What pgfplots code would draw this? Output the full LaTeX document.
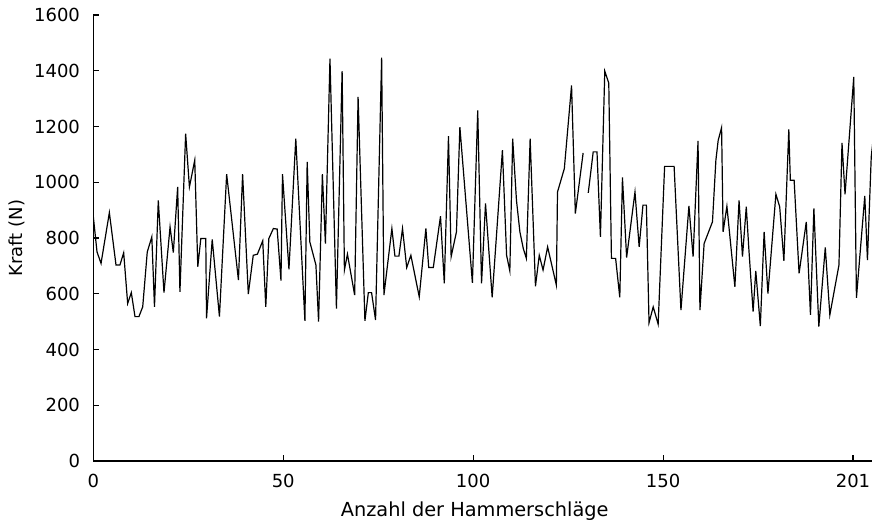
\documentclass[border=0pt]{standalone}
\usepackage{fontspec}
\setmainfont{DejaVu Sans}
\usepackage{pgfplots}
\pgfplotsset{compat=1.18}

\begin{document}
\begin{tikzpicture}[font=\fontsize{13.5}{16}\selectfont]
\begin{axis}[
    width=584pt, height=334.5pt, scale only axis,
    xmin=0, xmax=205, ymin=0, ymax=1600,
    axis lines=left,
    axis line style={-, line width=0.8pt},
    tick align=inside,
    major tick length=4.5pt,
    tick style={line width=0.8pt, black},
    xtick={0,50,100,150,200},
    xticklabels={0,50,100,150,201},
    ytick={0,200,...,1600},
    /pgf/number format/assume math mode=true,
    /pgf/number format/1000 sep={},
    xticklabel style={yshift=-6pt},
    yticklabel style={xshift=-6.5pt},
    xlabel={Anzahl der Hammerschläge},
    ylabel={Kraft (N)},
    every axis x label/.style={at={(axis description cs:0.5,0)}, xshift=-6pt, yshift=-37.5pt, anchor=center, font=\fontsize{14.5}{17}\selectfont},
    every axis y label/.style={at={(axis description cs:0,0.5)}, xshift=-57pt, rotate=90, anchor=center},
    unbounded coords=jump,
]
% force per hammer blow, vertices
\addplot[black, line width=0.9pt] coordinates {
    (0,876) (0.97,750) (2.03,709) (4.22,891) (5.97,703) (7.0,703)
    (7.99,747) (9.04,565) (10.0,604) (10.97,518) (12.0,518) (13.0,553)
    (14.2,750) (15.4,804) (16.1,553) (17.1,935) (18.6,604) (20.2,840)
    (21.06,748) (22.2,983) (22.8,607) (24.3,1174) (25.3,983) (26.7,1079)
    (27.5,697) (28.3,798) (29.6,798) (29.8,512) (31.3,795) (33.2,518)
    (35.1,1029) (38.2,649) (39.3,1029) (40.8,599) (42.1,738) (43.2,742)
    (44.6,790) (45.4,553) (46.2,798) (47.4,834) (48.4,832) (49.4,647)
    (49.8,1029) (51.5,688) (53.3,1156) (55.7,503) (56.3,1073) (57.0,786)
    (58.6,703) (59.3,500) (60.3,1029) (61.1,780) (62.3,1443) (64.0,547)
    (65.5,1399) (66.1,685) (66.9,742) (68.8,595) (69.7,1306) (71.5,503)
    (72.4,604) (73.25,604) (74.3,506) (75.9,1447) (76.5,595) (78.6,834)
    (79.4,735) (80.45,735) (81.4,834) (82.5,694) (83.6,738) (85.8,589)
    (87.55,834) (88.3,694) (89.5,694) (91.4,878) (92.4,637) (93.5,1165)
    (94.2,733) (95.6,822) (96.5,1198) (99.8,639) (101.2,1258) (102.2,637)
    (103.25,924) (105.0,587) (107.7,1115) (108.8,738) (109.65,682) (110.4,1156)
    (111.4,935) (112.3,822) (113.2,762) (114.0,727) (115.0,1156) (116.4,627)
    (117.4,738) (118.4,685) (119.6,768) (121.9,631) (122.2,965) (124.0,1049)
    (125.9,1347) (126.9,888) (128.95,1105)
    (129.6,nan)
    (130.3,962) (131.6,1109) (132.6,1109) (133.5,804) (134.65,1399) (135.7,1356)
    (136.4,727) (137.5,727) (138.6,587) (139.3,1017) (140.4,730) (142.6,965)
    (143.7,768) (144.7,918) (145.6,918) (146.3,496) (147.4,553) (148.7,491)
    (150.4,1057) (152.9,1057) (154.7,541) (156.8,915) (157.9,733) (159.2,1148)
    (159.7,541) (160.8,780) (163.0,858) (163.9,1079) (164.5,1150) (165.4,1196)
    (165.8,822) (166.8,914) (168.9,625) (170.0,935) (170.9,733) (171.9,912)
    (172.6,756) (173.7,536) (174.4,682) (175.6,484) (176.6,822) (177.6,601)
    (179.7,957) (180.7,912) (181.8,718) (183.1,1190) (183.5,1007) (184.5,1007)
    (185.8,673) (187.7,858) (188.8,524) (189.7,906) (191.0,482) (192.7,766)
    (193.9,524) (196.3,703) (197.1,1141) (197.9,957) (200.2,1378) (200.9,585)
    (203.1,951) (203.8,721) (204.8,1091) (205.5,1180)
};
\end{axis}
\pgfresetboundingbox
\useasboundingbox ([shift={(-70pt,-48.75pt)}]current axis.south west)
    rectangle ([shift={(0pt,11.25pt)}]current axis.north east);
\end{tikzpicture}
\end{document}
